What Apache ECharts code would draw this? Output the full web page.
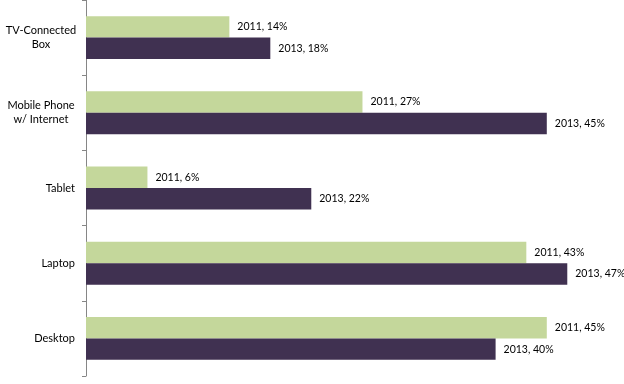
<!DOCTYPE html>
<html><head><meta charset="utf-8">
<script src="https://cdn.jsdelivr.net/npm/echarts@6/dist/echarts.min.js"></script>
<style>html,body{margin:0;padding:0;background:#fff}#c{width:624px;height:384px}</style>
</head><body><div id="c"></div>
<script>
const categories = ['TV-Connected\nBox', 'Mobile Phone\nw/ Internet', 'Tablet', 'Laptop', 'Desktop'];
const values2011 = [14, 27, 6, 43, 45];
const values2013 = [18, 45, 22, 47, 40];
const seriesNames = ['2011', '2013'];
const colors = ['#C4D79B', '#403151'];
const font = 'Lato, "DejaVu Sans", sans-serif';

const chart = echarts.init(document.getElementById('c'), null, {renderer: 'canvas'});
const mk = (name, data, color) => ({
  name, type: 'bar', data,
  barGap: '0%', barCategoryGap: '43%',
  itemStyle: {color},
  label: {show: true, position: 'right', distance: 8, color: '#000', fontSize: 10.5, fontFamily: font,
    formatter: p => p.seriesName + ', ' + p.value + '%'}
});
chart.setOption({
  animation: false,
  grid: {left: 86, right: 26, top: 0, bottom: 8, containLabel: false, outerBoundsMode: 'none'},
  xAxis: {type: 'value', min: 0, max: 50, show: false},
  yAxis: {type: 'category', data: categories, inverse: true,
    axisLine: {lineStyle: {color: '#868686', width: 1}},
    axisTick: {show: true, length: 4, inside: false, lineStyle: {color: '#868686'}},
    axisLabel: {color: '#000', fontSize: 11, fontFamily: font, margin: 11, align: 'right', lineHeight: 14,
      formatter: v => v.indexOf('\n') >= 0 ? v.split('\n').map(s => '{c|' + s + '}').join('\n') : v,
      rich: {c: {width: 68, align: 'center', fontSize: 11, fontFamily: font, color: '#000', lineHeight: 14}}
    }
  },
  series: [mk(seriesNames[0], values2011, colors[0]), mk(seriesNames[1], values2013, colors[1])]
});
</script></body></html>
